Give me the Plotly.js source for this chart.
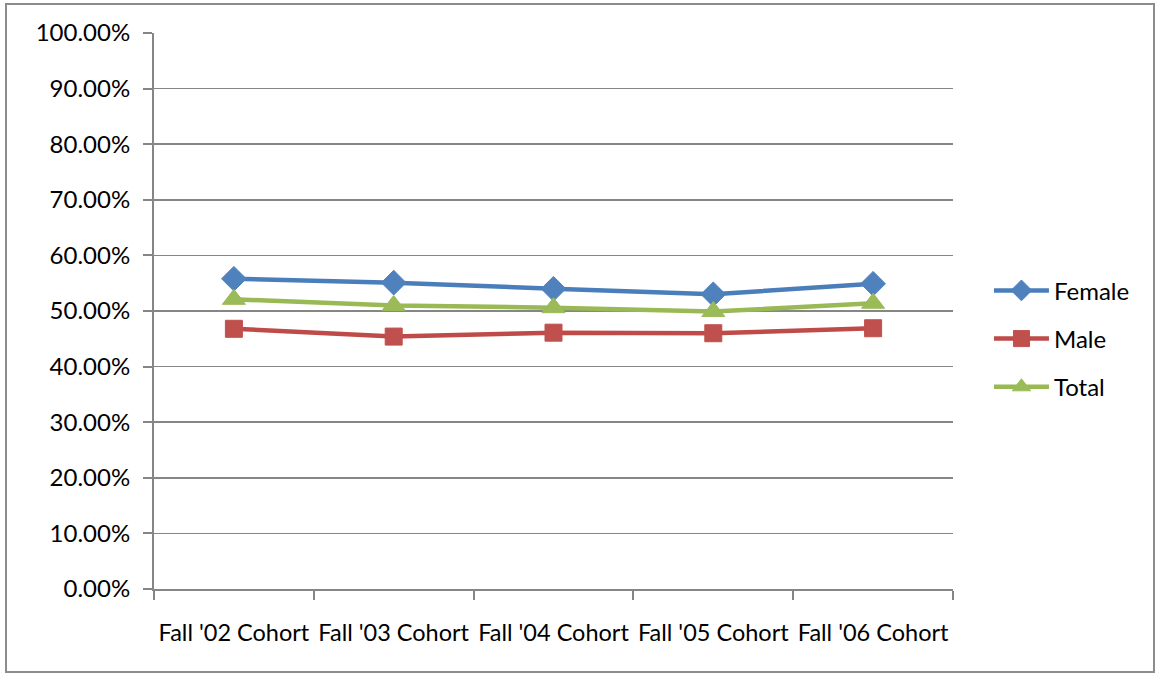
<!DOCTYPE html>
<html>
<head>
<meta charset="utf-8">
<script src="https://cdn.plot.ly/plotly-3.0.1.min.js"></script>
<style>
  html, body { margin: 0; padding: 0; background: #fff; }
  #wrap { position: relative; width: 1157px; height: 675px; }
  #chart { width: 1157px; height: 675px; }
  #frame { position: absolute; left: 5px; top: 3px; width: 1150px; height: 670px;
           border: 2px solid #8c8c8c; box-sizing: border-box; pointer-events: none; }
</style>
</head>
<body>
<div id="wrap">
  <div id="chart"></div>
  <div id="frame"></div>
</div>
<script>
const categories = ["Fall '02 Cohort", "Fall '03 Cohort", "Fall '04 Cohort", "Fall '05 Cohort", "Fall '06 Cohort"];
const female = [0.558, 0.551, 0.540, 0.530, 0.549];
const male   = [0.468, 0.454, 0.461, 0.460, 0.469];
const total  = [0.521, 0.510, 0.506, 0.499, 0.514];
const yTicks = [0, 0.1, 0.2, 0.3, 0.4, 0.5, 0.6, 0.7, 0.8, 0.9, 1.0];

const font = { family: "Lato, 'Open Sans', sans-serif", size: 24, color: "#000" };
const xfont = { family: "Lato, 'Open Sans', sans-serif", size: 23.5, color: "#000" };

function series(name, y, lineColor, markerColor, symbol, size) {
  return {
    type: "scatter", mode: "lines+markers", name: name, legendgroup: name,
    x: categories, y: y,
    line: { color: lineColor, width: 4.5 },
    marker: { symbol: symbol, size: size, color: markerColor,
              line: { color: markerColor, width: 1 } }
  };
}

const data = [
  series("Female", female, "#4A7EBB", "#4F81BD", "diamond", 19),
  series("Male", male, "#BE4B48", "#C0504D", "square", 17),
  series("Total", total, "#98B954", "#9BBB59", "triangle-up", 20)
];

const layout = {
  width: 1157, height: 675,
  margin: { l: 154, r: 204, t: 33, b: 86 },
  paper_bgcolor: "#fff", plot_bgcolor: "#fff",
  font: font,
  showlegend: true,
  legend: { x: 1.045, xanchor: "left", y: 0.45, yanchor: "middle",
            font: font, itemwidth: 55, traceorder: "grouped", tracegroupgap: 14,
            bgcolor: "rgba(0,0,0,0)" },
  xaxis: {
    type: "category", range: [-0.5, 4.5],
    showline: true, linecolor: "#868686", linewidth: 2,
    ticks: "outside", tickson: "boundaries", ticklen: 9, tickcolor: "#868686", tickwidth: 2,
    showgrid: false, zeroline: false, tickangle: 0,
    tickfont: xfont, ticklabelstandoff: 22
  },
  yaxis: {
    range: [0, 1], tickvals: yTicks, tickformat: ".2%",
    showline: true, linecolor: "#868686", linewidth: 2,
    ticks: "outside", ticklen: 9, tickcolor: "#868686", tickwidth: 2,
    showgrid: true, gridcolor: "#868686", gridwidth: 1.5,
    zeroline: false, tickfont: font, ticklabelstandoff: 8
  }
};

Plotly.newPlot("chart", data, layout, { displayModeBar: false, staticPlot: true });
</script>
</body>
</html>
